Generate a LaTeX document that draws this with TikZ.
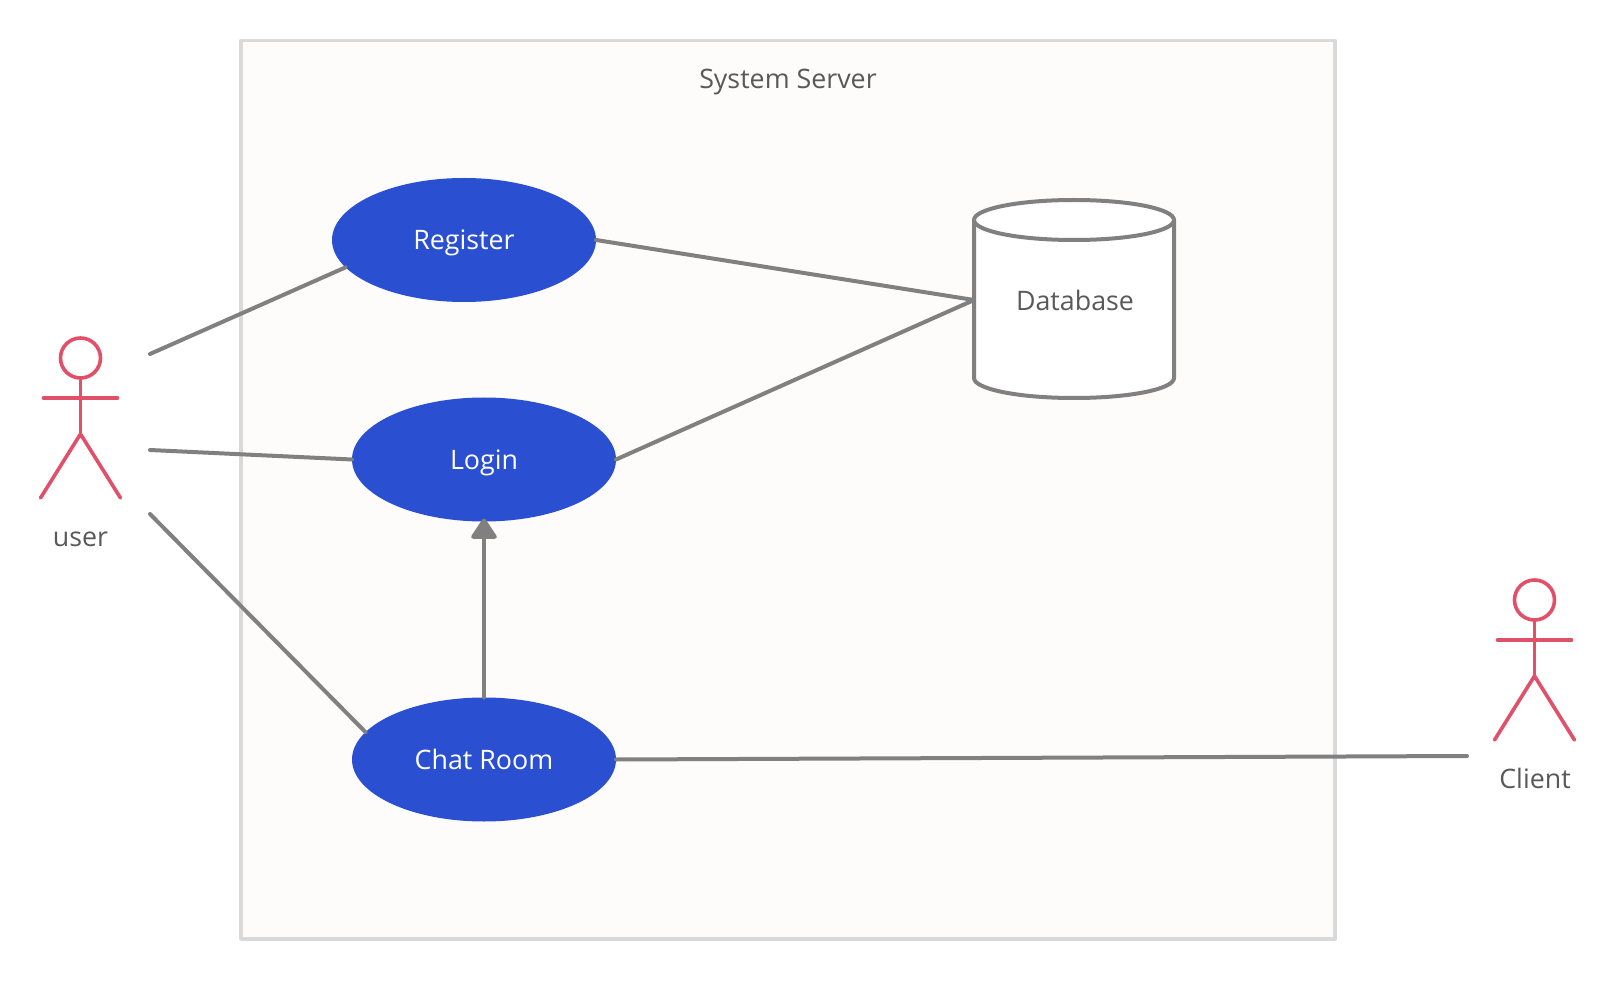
\documentclass[tikz,border=0pt]{standalone}
\usepackage{fontspec}
\setmainfont{Open Sans}
\usetikzlibrary{shapes.geometric,arrows.meta}
\definecolor{boxfill}{HTML}{FDFCFA}
\definecolor{boxline}{HTML}{D9D9D9}
\definecolor{conn}{HTML}{808080}
\definecolor{blueuc}{HTML}{2B4FD1}
\definecolor{actorc}{HTML}{E15068}
\definecolor{txt}{HTML}{595959}
\tikzset{
  sysbox/.style={draw=boxline,fill=boxfill,line width=3.8pt,line join=round},
  usecase/.style={ellipse,fill=blueuc,minimum width=264pt,minimum height=124pt,inner sep=0pt,outer sep=0pt,text=white,text height=20pt,text depth=0pt,font=\fontsize{26.8}{30}\selectfont},
  label/.style={text=txt,inner sep=0pt,text height=20pt,text depth=0pt,font=\fontsize{26.8}{30}\selectfont},
  dbshape/.style={draw=conn,fill=white,line width=4pt,line join=round},
  dbnode/.style={rectangle,minimum width=200pt,minimum height=198pt,inner sep=0pt,outer sep=0pt,text=txt,text height=20pt,text depth=0pt,font=\fontsize{26.8}{30}\selectfont},
  conline/.style={draw=conn,line width=4pt,line cap=round},
  actorline/.style={draw=actorc,line width=3.6pt,line cap=round,line join=round},
}
\newcommand{\actor}[2]{%
  \draw[actorline] (#1,#2) circle[radius=20];
  \draw[actorline] (#1,#2+20) -- (#1,#2+76);
  \draw[actorline] (#1-37,#2+40) -- (#1+37,#2+40);
  \draw[actorline] (#1-40,#2+140) -- (#1,#2+76) -- (#1+40,#2+140);
}
\begin{document}
\begin{tikzpicture}[x=1pt,y=-1pt]
\useasboundingbox (0,0) rectangle (1615,981);
\fill[white] (0,0) rectangle (1615,981);
\draw[sysbox] (241,40.5) rectangle (1335,939);
\node[label] (title) at (788,79) {System Server};
\draw[dbshape] (974,220) -- (974,378) .. controls (974,389) and (1018,398) .. (1074,398) .. controls (1130,398) and (1174,389) .. (1174,378) -- (1174,220) .. controls (1174,209) and (1130,200) .. (1074,200) .. controls (1018,200) and (974,209) .. (974,220) -- cycle;
\draw[dbshape] (974,220) .. controls (974,231) and (1018,240) .. (1074,240) .. controls (1130,240) and (1174,231) .. (1174,220);
\node[dbnode] (db) at (1075,301) {Database};
\coordinate (dbw) at (974,300);
\node[usecase] (reg) at (464,240) {Register};
\node[usecase] (log) at (484,459.5) {Login};
\node[usecase] (chat) at (484,759.5) {Chat Room};
\actor{80.5}{358}
\actor{1534.5}{600}
\node[label] (user) at (80.5,536) {user};
\node[label] (client) at (1535,778) {Client};
\coordinate (u1) at (150,354);
\coordinate (u2) at (150,450);
\coordinate (u3) at (150,514);
\coordinate (c1) at (1467,756);
\draw[conline] (u1) -- (reg.193);
\draw[conline] (u2) -- (log.west);
\draw[conline] (u3) -- (chat.167);
\draw[conline] (reg.east) -- (dbw);
\draw[conline] (log.east) -- (dbw);
\draw[conline] (chat.east) -- (c1);
\draw[conline,-{Triangle[round,length=22pt,width=28pt]},shorten >=-3pt] (chat.north) -- (log.south);
\end{tikzpicture}
\end{document}
